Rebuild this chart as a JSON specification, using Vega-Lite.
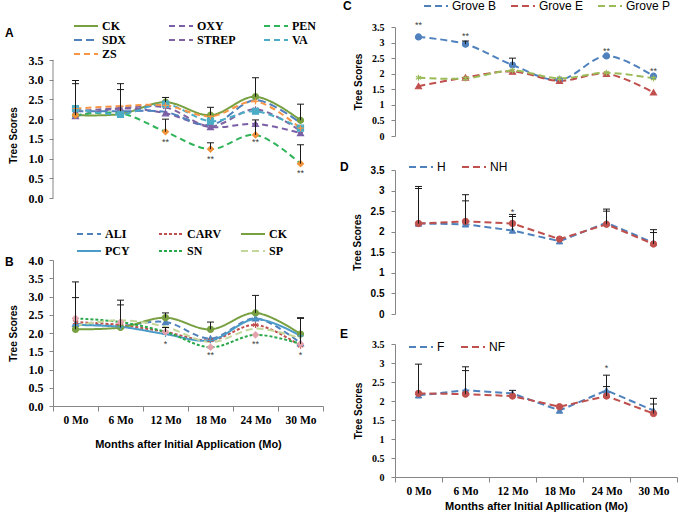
{
  "$schema": "https://vega.github.io/schema/vega-lite/v6.json",
  "padding": {"left": 5, "top": 0, "right": 0, "bottom": 0},
  "config": {
    "view": {"stroke": null},
    "axis": {"domainColor": "#868686", "tickColor": "#868686", "grid": false, "labelColor": "#000", "titleColor": "#000"},
    "legend": {"symbolStrokeWidth": 2, "labelColor": "#000", "titleColor": "#000"}
  },
  "datasets": {
    "a": [
      {"m": "0 Mo", "s": "CK", "v": 2.10}, {"m": "6 Mo", "s": "CK", "v": 2.13}, {"m": "12 Mo", "s": "CK", "v": 2.43}, {"m": "18 Mo", "s": "CK", "v": 2.10}, {"m": "24 Mo", "s": "CK", "v": 2.57}, {"m": "30 Mo", "s": "CK", "v": 1.97},
      {"m": "0 Mo", "s": "OXY", "v": 2.08}, {"m": "6 Mo", "s": "OXY", "v": 2.27}, {"m": "12 Mo", "s": "OXY", "v": 2.15}, {"m": "18 Mo", "s": "OXY", "v": 1.80}, {"m": "24 Mo", "s": "OXY", "v": 1.88}, {"m": "30 Mo", "s": "OXY", "v": 1.65},
      {"m": "0 Mo", "s": "PEN", "v": 2.10}, {"m": "6 Mo", "s": "PEN", "v": 2.15}, {"m": "12 Mo", "s": "PEN", "v": 1.68}, {"m": "18 Mo", "s": "PEN", "v": 1.24}, {"m": "24 Mo", "s": "PEN", "v": 1.60}, {"m": "30 Mo", "s": "PEN", "v": 0.87},
      {"m": "0 Mo", "s": "SDX", "v": 2.20}, {"m": "6 Mo", "s": "SDX", "v": 2.20}, {"m": "12 Mo", "s": "SDX", "v": 2.18}, {"m": "18 Mo", "s": "SDX", "v": 1.85}, {"m": "24 Mo", "s": "SDX", "v": 2.48}, {"m": "30 Mo", "s": "SDX", "v": 1.90},
      {"m": "0 Mo", "s": "STREP", "v": 2.20}, {"m": "6 Mo", "s": "STREP", "v": 2.28}, {"m": "12 Mo", "s": "STREP", "v": 2.30}, {"m": "18 Mo", "s": "STREP", "v": 1.82}, {"m": "24 Mo", "s": "STREP", "v": 2.25}, {"m": "30 Mo", "s": "STREP", "v": 1.70},
      {"m": "0 Mo", "s": "VA", "v": 2.27}, {"m": "6 Mo", "s": "VA", "v": 2.12}, {"m": "12 Mo", "s": "VA", "v": 2.38}, {"m": "18 Mo", "s": "VA", "v": 1.95}, {"m": "24 Mo", "s": "VA", "v": 2.20}, {"m": "30 Mo", "s": "VA", "v": 1.77},
      {"m": "0 Mo", "s": "ZS", "v": 2.27}, {"m": "6 Mo", "s": "ZS", "v": 2.33}, {"m": "12 Mo", "s": "ZS", "v": 2.35}, {"m": "18 Mo", "s": "ZS", "v": 2.07}, {"m": "24 Mo", "s": "ZS", "v": 2.45}, {"m": "30 Mo", "s": "ZS", "v": 1.77}
    ],
    "aAxis": [{"v": 0, "v0": 3.5}],
    "aErr": [
      {"m": "0 Mo", "v0": 2.27, "v": 2.98}, {"m": "0 Mo", "v0": 2.10, "v": 2.90},
      {"m": "6 Mo", "v0": 2.27, "v": 2.90}, {"m": "6 Mo", "v0": 2.20, "v": 2.75},
      {"m": "12 Mo", "v0": 2.43, "v": 2.55}, {"m": "12 Mo", "v0": 1.68, "v": 2.00},
      {"m": "18 Mo", "v0": 2.10, "v": 2.30}, {"m": "18 Mo", "v0": 1.24, "v": 1.40},
      {"m": "24 Mo", "v0": 2.57, "v": 3.05}, {"m": "24 Mo", "v0": 1.60, "v": 1.98},
      {"m": "30 Mo", "v0": 1.97, "v": 2.38}, {"m": "30 Mo", "v0": 0.87, "v": 1.35}
    ],
    "aSig": [
      {"m": "12 Mo", "v": 1.43, "t": "**"}, {"m": "18 Mo", "v": 1.0, "t": "**"}, {"m": "24 Mo", "v": 1.43, "t": "**"}, {"m": "30 Mo", "v": 0.63, "t": "**"}
    ],
    "b": [
      {"m": "0 Mo", "s": "ALI", "v": 2.25}, {"m": "6 Mo", "s": "ALI", "v": 2.20}, {"m": "12 Mo", "s": "ALI", "v": 2.30}, {"m": "18 Mo", "s": "ALI", "v": 1.85}, {"m": "24 Mo", "s": "ALI", "v": 2.40}, {"m": "30 Mo", "s": "ALI", "v": 1.72},
      {"m": "0 Mo", "s": "CARV", "v": 2.30}, {"m": "6 Mo", "s": "CARV", "v": 2.22}, {"m": "12 Mo", "s": "CARV", "v": 2.03}, {"m": "18 Mo", "s": "CARV", "v": 1.80}, {"m": "24 Mo", "s": "CARV", "v": 2.22}, {"m": "30 Mo", "s": "CARV", "v": 1.65},
      {"m": "0 Mo", "s": "CK", "v": 2.10}, {"m": "6 Mo", "s": "CK", "v": 2.15}, {"m": "12 Mo", "s": "CK", "v": 2.42}, {"m": "18 Mo", "s": "CK", "v": 2.10}, {"m": "24 Mo", "s": "CK", "v": 2.55}, {"m": "30 Mo", "s": "CK", "v": 1.97},
      {"m": "0 Mo", "s": "PCY", "v": 2.22}, {"m": "6 Mo", "s": "PCY", "v": 2.17}, {"m": "12 Mo", "s": "PCY", "v": 1.97}, {"m": "18 Mo", "s": "PCY", "v": 1.80}, {"m": "24 Mo", "s": "PCY", "v": 2.38}, {"m": "30 Mo", "s": "PCY", "v": 1.92},
      {"m": "0 Mo", "s": "SN", "v": 2.40}, {"m": "6 Mo", "s": "SN", "v": 2.30}, {"m": "12 Mo", "s": "SN", "v": 2.03}, {"m": "18 Mo", "s": "SN", "v": 1.61}, {"m": "24 Mo", "s": "SN", "v": 1.95}, {"m": "30 Mo", "s": "SN", "v": 1.70},
      {"m": "0 Mo", "s": "SP", "v": 2.20}, {"m": "6 Mo", "s": "SP", "v": 2.35}, {"m": "12 Mo", "s": "SP", "v": 2.17}, {"m": "18 Mo", "s": "SP", "v": 1.75}, {"m": "24 Mo", "s": "SP", "v": 2.12}, {"m": "30 Mo", "s": "SP", "v": 1.85}
    ],
    "bErr": [
      {"m": "0 Mo", "v0": 2.25, "v": 3.40}, {"m": "0 Mo", "v0": 2.10, "v": 2.97},
      {"m": "6 Mo", "v0": 2.20, "v": 2.90}, {"m": "6 Mo", "v0": 2.15, "v": 2.77},
      {"m": "12 Mo", "v0": 2.42, "v": 2.55}, {"m": "12 Mo", "v0": 2.03, "v": 2.15},
      {"m": "18 Mo", "v0": 2.10, "v": 2.30},
      {"m": "24 Mo", "v0": 2.55, "v": 3.03},
      {"m": "30 Mo", "v0": 1.97, "v": 2.42}, {"m": "30 Mo", "v0": 1.70, "v": 2.40}
    ],
    "bSig": [
      {"m": "12 Mo", "v": 1.69, "t": "*"}, {"m": "18 Mo", "v": 1.41, "t": "**"}, {"m": "24 Mo", "v": 1.69, "t": "**"}, {"m": "30 Mo", "v": 1.41, "t": "*"}
    ],
    "c": [
      {"m": "0 Mo", "s": "Grove B", "v": 3.18}, {"m": "6 Mo", "s": "Grove B", "v": 2.95}, {"m": "12 Mo", "s": "Grove B", "v": 2.28}, {"m": "18 Mo", "s": "Grove B", "v": 1.80}, {"m": "24 Mo", "s": "Grove B", "v": 2.57}, {"m": "30 Mo", "s": "Grove B", "v": 1.92},
      {"m": "0 Mo", "s": "Grove E", "v": 1.60}, {"m": "6 Mo", "s": "Grove E", "v": 1.88}, {"m": "12 Mo", "s": "Grove E", "v": 2.07}, {"m": "18 Mo", "s": "Grove E", "v": 1.77}, {"m": "24 Mo", "s": "Grove E", "v": 2.00}, {"m": "30 Mo", "s": "Grove E", "v": 1.40},
      {"m": "0 Mo", "s": "Grove P", "v": 1.87}, {"m": "6 Mo", "s": "Grove P", "v": 1.85}, {"m": "12 Mo", "s": "Grove P", "v": 2.10}, {"m": "18 Mo", "s": "Grove P", "v": 1.85}, {"m": "24 Mo", "s": "Grove P", "v": 2.03}, {"m": "30 Mo", "s": "Grove P", "v": 1.85}
    ],
    "cErr": [
      {"m": "6 Mo", "v0": 2.95, "v": 3.05}, {"m": "12 Mo", "v0": 2.28, "v": 2.50}
    ],
    "cSig": [
      {"m": "0 Mo", "v": 3.58, "t": "**"}, {"m": "6 Mo", "v": 3.22, "t": "**"}, {"m": "24 Mo", "v": 2.74, "t": "**"}, {"m": "30 Mo", "v": 2.10, "t": "**"}
    ],
    "d": [
      {"m": "0 Mo", "s": "H", "v": 2.20}, {"m": "6 Mo", "s": "H", "v": 2.18}, {"m": "12 Mo", "s": "H", "v": 2.03}, {"m": "18 Mo", "s": "H", "v": 1.77}, {"m": "24 Mo", "s": "H", "v": 2.22}, {"m": "30 Mo", "s": "H", "v": 1.73},
      {"m": "0 Mo", "s": "NH", "v": 2.20}, {"m": "6 Mo", "s": "NH", "v": 2.25}, {"m": "12 Mo", "s": "NH", "v": 2.20}, {"m": "18 Mo", "s": "NH", "v": 1.82}, {"m": "24 Mo", "s": "NH", "v": 2.18}, {"m": "30 Mo", "s": "NH", "v": 1.70}
    ],
    "dErr": [
      {"m": "0 Mo", "v0": 2.20, "v": 3.10}, {"m": "0 Mo", "v0": 2.20, "v": 3.05},
      {"m": "6 Mo", "v0": 2.25, "v": 2.90}, {"m": "6 Mo", "v0": 2.18, "v": 2.75},
      {"m": "12 Mo", "v0": 2.20, "v": 2.42}, {"m": "12 Mo", "v0": 2.03, "v": 2.37},
      {"m": "24 Mo", "v0": 2.22, "v": 2.55}, {"m": "24 Mo", "v0": 2.18, "v": 2.50},
      {"m": "30 Mo", "v0": 1.73, "v": 2.05}, {"m": "30 Mo", "v0": 1.70, "v": 1.98}
    ],
    "dSig": [
      {"m": "12 Mo", "v": 2.47, "t": "*"}
    ],
    "e": [
      {"m": "0 Mo", "s": "F", "v": 2.15}, {"m": "6 Mo", "s": "F", "v": 2.28}, {"m": "12 Mo", "s": "F", "v": 2.20}, {"m": "18 Mo", "s": "F", "v": 1.75}, {"m": "24 Mo", "s": "F", "v": 2.28}, {"m": "30 Mo", "s": "F", "v": 1.75},
      {"m": "0 Mo", "s": "NF", "v": 2.20}, {"m": "6 Mo", "s": "NF", "v": 2.18}, {"m": "12 Mo", "s": "NF", "v": 2.13}, {"m": "18 Mo", "s": "NF", "v": 1.85}, {"m": "24 Mo", "s": "NF", "v": 2.13}, {"m": "30 Mo", "s": "NF", "v": 1.67}
    ],
    "eErr": [
      {"m": "0 Mo", "v0": 2.20, "v": 2.97},
      {"m": "6 Mo", "v0": 2.28, "v": 2.90}, {"m": "6 Mo", "v0": 2.18, "v": 2.80},
      {"m": "12 Mo", "v0": 2.20, "v": 2.28},
      {"m": "24 Mo", "v0": 2.28, "v": 2.68}, {"m": "24 Mo", "v0": 2.13, "v": 2.38},
      {"m": "30 Mo", "v0": 1.75, "v": 2.07}, {"m": "30 Mo", "v0": 1.67, "v": 1.92}
    ],
    "eSig": [
      {"m": "24 Mo", "v": 2.86, "t": "*"}
    ]
  },
  "resolve": {"scale": {"color": "independent", "strokeDash": "independent", "fill": "independent", "stroke": "independent", "shape": "independent"}},
  "columns": 2,
  "align": "none",
  "spacing": 16,
  "concat": [
    {
      "spacing": 24,
      "resolve": {"scale": {"color": "independent", "strokeDash": "independent", "fill": "independent", "stroke": "independent", "shape": "independent"}},
      "vconcat": [
        {
          "width": 270, "height": 171,
          "encoding": {
            "x": {"field": "m", "type": "ordinal", "sort": ["0 Mo", "6 Mo", "12 Mo", "18 Mo", "24 Mo", "30 Mo"], "bandPosition": 0.5, "scale": {"type": "band", "paddingInner": 0, "paddingOuter": 0}, "axis": null},
            "y": {"field": "v", "type": "quantitative", "scale": {"domain": [0, 4.337], "nice": false, "zero": false},
              "axis": {"title": "Tree Scores", "domain": false, "titleY": 108, "values": [0, 0.5, 1, 1.5, 2, 2.5, 3, 3.5], "format": ".1f", "labelFont": "Liberation Serif", "labelFontWeight": "bold", "labelFontSize": 12, "titleFont": "Liberation Sans", "titleFontWeight": "bold", "titleFontSize": 10, "tickSize": 4, "labelPadding": 6, "titlePadding": 10}}
          },
          "layer": [
            {"data": {"name": "aAxis"}, "mark": {"type": "rule", "color": "#868686", "strokeWidth": 1},
              "encoding": {"x": {"datum": "0 Mo", "type": "ordinal", "bandPosition": 0}, "y2": {"field": "v0"}}},
            {"data": {"name": "a"}, "mark": {"type": "line", "interpolate": "catmull-rom", "strokeWidth": 2},
              "encoding": {
                "color": {"field": "s", "type": "nominal", "scale": {"domain": ["CK", "OXY", "PEN", "SDX", "STREP", "VA", "ZS"], "range": ["#78a040", "#7a5ea6", "#2fb45a", "#4f81bd", "#8064a2", "#4bacc6", "#f79646"]},
                  "legend": {"title": "A", "orient": "none", "direction": "horizontal", "legendX": -48, "legendY": -7, "columns": 3, "columnPadding": 24, "gridAlign": "all", "rowPadding": 2, "symbolType": "M-3,0H3", "symbolSize": 64, "symbolStrokeWidth": 2, "labelOffset": 10, "labelFont": "Liberation Serif", "labelFontWeight": "bold", "labelFontSize": 12, "titleOrient": "left", "titleFont": "Liberation Sans", "titleFontWeight": "bold", "titleFontSize": 12, "titlePadding": 66, "titleAnchor": "middle", "titleBaseline": "bottom"}},
                "strokeDash": {"field": "s", "type": "nominal", "scale": {"domain": ["CK", "OXY", "PEN", "SDX", "STREP", "VA", "ZS"], "range": [[1, 0], [6, 4], [6, 4], [8, 4], [6, 4], [6, 4], [6, 4]]},
                  "legend": {"title": "A", "orient": "none", "direction": "horizontal", "legendX": -48, "legendY": -7, "columns": 3, "columnPadding": 24, "gridAlign": "all", "rowPadding": 2, "symbolType": "M-3,0H3", "symbolSize": 64, "symbolStrokeWidth": 2, "labelOffset": 10, "labelFont": "Liberation Serif", "labelFontWeight": "bold", "labelFontSize": 12, "titleOrient": "left", "titleFont": "Liberation Sans", "titleFontWeight": "bold", "titleFontSize": 12, "titlePadding": 66, "titleAnchor": "middle", "titleBaseline": "bottom"}}
              }},
            {"data": {"name": "a"}, "transform": [{"filter": {"field": "s", "oneOf": ["CK", "OXY", "PEN", "STREP", "VA", "ZS"]}}],
              "mark": {"type": "point", "filled": true, "size": 36, "strokeWidth": 1.2, "opacity": 1},
              "encoding": {
                "fill": {"field": "s", "type": "nominal", "scale": {"domain": ["CK", "OXY", "PEN", "STREP", "VA", "ZS"], "range": ["#78a040", "#7a5ea6", "#f0923a", "#8064a2", "#4bacc6", "#f79646"]}, "legend": null},
                "stroke": {"field": "s", "type": "nominal", "scale": {"domain": ["CK", "OXY", "PEN", "STREP", "VA", "ZS"], "range": ["#78a040", "#7a5ea6", "#f0923a", "#8064a2", "#4bacc6", "#f79646"]}, "legend": null},
                "shape": {"field": "s", "type": "nominal", "scale": {"domain": ["CK", "OXY", "PEN", "STREP", "VA", "ZS"], "range": ["circle", "triangle-up", "diamond", "M0,-1L0,1M-0.87,-0.5L0.87,0.5M-0.87,0.5L0.87,-0.5", "square", "M-1,0L1,0M0,-1L0,1"]}, "legend": null}
              }},
            {"data": {"name": "aErr"}, "mark": {"type": "rule", "color": "#1a1a1a", "strokeWidth": 1}, "encoding": {"y2": {"field": "v0"}}},
            {"data": {"name": "aErr"}, "mark": {"type": "tick", "color": "#1a1a1a", "size": 7, "thickness": 1, "opacity": 1, "orient": "horizontal"}},
            {"data": {"name": "aSig"}, "mark": {"type": "text", "fontSize": 9, "color": "#404040", "baseline": "middle"}, "encoding": {"text": {"field": "t"}}}
          ]
        },
        {
          "width": 270, "height": 146,
          "encoding": {
            "x": {"field": "m", "type": "ordinal", "sort": ["0 Mo", "6 Mo", "12 Mo", "18 Mo", "24 Mo", "30 Mo"], "bandPosition": 0.5, "scale": {"type": "band", "paddingInner": 0, "paddingOuter": 0},
              "axis": {"title": "Months after Initial Application (Mo)", "tickBand": "extent", "labelAngle": 0, "labelFont": "Liberation Serif", "labelFontWeight": "bold", "labelFontSize": 11.5, "labelPadding": 3, "tickSize": 5, "titleFont": "Liberation Sans", "titleFontWeight": "bold", "titleFontSize": 11, "titlePadding": 13}},
            "y": {"field": "v", "type": "quantitative", "scale": {"domain": [0, 4], "nice": false, "zero": false},
              "axis": {"title": "Tree Scores", "values": [0, 0.5, 1, 1.5, 2, 2.5, 3, 3.5, 4], "format": ".1f", "labelFont": "Liberation Serif", "labelFontWeight": "bold", "labelFontSize": 12, "titleFont": "Liberation Sans", "titleFontWeight": "bold", "titleFontSize": 10, "tickSize": 4, "labelPadding": 6, "titlePadding": 10}}
          },
          "layer": [
            {"data": {"name": "b"}, "mark": {"type": "line", "interpolate": "catmull-rom", "strokeWidth": 2},
              "encoding": {
                "color": {"field": "s", "type": "nominal", "scale": {"domain": ["ALI", "CARV", "CK", "PCY", "SN", "SP"], "range": ["#4f81bd", "#c0504d", "#78a040", "#4a9bc7", "#2aa84a", "#c4d79b"]},
                  "legend": {"title": "B", "orient": "none", "direction": "horizontal", "legendX": -48, "legendY": -32, "columns": 3, "columnPadding": 15, "gridAlign": "all", "rowPadding": 5, "symbolType": "M-3,0H3", "symbolSize": 64, "symbolStrokeWidth": 2, "labelOffset": 10, "labelFont": "Liberation Serif", "labelFontWeight": "bold", "labelFontSize": 12, "titleOrient": "left", "titleFont": "Liberation Sans", "titleFontWeight": "bold", "titleFontSize": 12, "titlePadding": 69, "titleAnchor": "end", "titleBaseline": "top"}},
                "strokeDash": {"field": "s", "type": "nominal", "scale": {"domain": ["ALI", "CARV", "CK", "PCY", "SN", "SP"], "range": [[6, 4], [3, 2], [1, 0], [1, 0], [3, 2], [7, 4]]},
                  "legend": {"title": "B", "orient": "none", "direction": "horizontal", "legendX": -48, "legendY": -32, "columns": 3, "columnPadding": 15, "gridAlign": "all", "rowPadding": 5, "symbolType": "M-3,0H3", "symbolSize": 64, "symbolStrokeWidth": 2, "labelOffset": 10, "labelFont": "Liberation Serif", "labelFontWeight": "bold", "labelFontSize": 12, "titleOrient": "left", "titleFont": "Liberation Sans", "titleFontWeight": "bold", "titleFontSize": 12, "titlePadding": 69, "titleAnchor": "end", "titleBaseline": "top"}}
              }},
            {"data": {"name": "b"}, "transform": [{"filter": {"field": "s", "oneOf": ["ALI", "CARV", "CK", "PCY", "SN"]}}],
              "mark": {"type": "point", "filled": true, "size": 36, "strokeWidth": 1.2, "opacity": 1},
              "encoding": {
                "fill": {"field": "s", "type": "nominal", "scale": {"domain": ["ALI", "CARV", "CK", "PCY", "SN"], "range": ["#4f81bd", "#c0504d", "#78a040", "#4a9bc7", "#e3a3ac"]}, "legend": null},
                "stroke": {"field": "s", "type": "nominal", "scale": {"domain": ["ALI", "CARV", "CK", "PCY", "SN"], "range": ["#4f81bd", "#c0504d", "#78a040", "#4a9bc7", "#e3a3ac"]}, "legend": null},
                "shape": {"field": "s", "type": "nominal", "scale": {"domain": ["ALI", "CARV", "CK", "PCY", "SN"], "range": ["triangle-up", "M0,-1L0,1M-0.87,-0.5L0.87,0.5M-0.87,0.5L0.87,-0.5", "circle", "M-1,0L1,0M0,-1L0,1", "diamond"]}, "legend": null}
              }},
            {"data": {"name": "bErr"}, "mark": {"type": "rule", "color": "#1a1a1a", "strokeWidth": 1}, "encoding": {"y2": {"field": "v0"}}},
            {"data": {"name": "bErr"}, "mark": {"type": "tick", "color": "#1a1a1a", "size": 7, "thickness": 1, "opacity": 1, "orient": "horizontal"}},
            {"data": {"name": "bSig"}, "mark": {"type": "text", "fontSize": 9, "color": "#404040", "baseline": "middle"}, "encoding": {"text": {"field": "t"}}}
          ]
        }
      ]
    },
    {
      "spacing": 20,
      "resolve": {"scale": {"color": "independent", "strokeDash": "independent", "fill": "independent", "stroke": "independent", "shape": "independent"}},
      "vconcat": [
        {
          "width": 282, "height": 109,
          "encoding": {
            "x": {"field": "m", "type": "ordinal", "sort": ["0 Mo", "6 Mo", "12 Mo", "18 Mo", "24 Mo", "30 Mo"], "bandPosition": 0.5, "scale": {"type": "band", "paddingInner": 0, "paddingOuter": 0}, "axis": null},
            "y": {"field": "v", "type": "quantitative", "scale": {"domain": [0, 3.5], "nice": false, "zero": false},
              "axis": {"title": "Tree Scores", "values": [0, 0.5, 1, 1.5, 2, 2.5, 3, 3.5], "format": "~g", "labelFont": "Liberation Serif", "labelFontWeight": "bold", "labelFontSize": 10, "titleFont": "Liberation Sans", "titleFontWeight": "bold", "titleFontSize": 10, "tickSize": 4, "labelPadding": 7, "titlePadding": 8}}
          },
          "layer": [
            {"data": {"name": "c"}, "mark": {"type": "line", "interpolate": "catmull-rom", "strokeWidth": 2},
              "encoding": {
                "color": {"field": "s", "type": "nominal", "scale": {"domain": ["Grove B", "Grove E", "Grove P"], "range": ["#4f81bd", "#c0504d", "#9bbb59"]},
                  "legend": {"title": "C", "orient": "none", "direction": "horizontal", "legendX": -52, "legendY": -27, "columns": 3, "columnPadding": 10, "gridAlign": "all", "rowPadding": 2, "symbolType": "M-3,0H3", "symbolSize": 64, "symbolStrokeWidth": 2, "labelOffset": 10, "labelFont": "Liberation Sans", "labelFontSize": 12, "titleOrient": "left", "titleFont": "Liberation Sans", "titleFontWeight": "bold", "titleFontSize": 12, "titlePadding": 78}},
                "strokeDash": {"field": "s", "type": "nominal", "scale": {"domain": ["Grove B", "Grove E", "Grove P"], "range": [[7, 4], [7, 4], [7, 4]]},
                  "legend": {"title": "C", "orient": "none", "direction": "horizontal", "legendX": -52, "legendY": -27, "columns": 3, "columnPadding": 10, "gridAlign": "all", "rowPadding": 2, "symbolType": "M-3,0H3", "symbolSize": 64, "symbolStrokeWidth": 2, "labelOffset": 10, "labelFont": "Liberation Sans", "labelFontSize": 12, "titleOrient": "left", "titleFont": "Liberation Sans", "titleFontWeight": "bold", "titleFontSize": 12, "titlePadding": 78}}
              }},
            {"data": {"name": "c"},
              "mark": {"type": "point", "filled": true, "size": 36, "strokeWidth": 1.2, "opacity": 1},
              "encoding": {
                "fill": {"field": "s", "type": "nominal", "scale": {"domain": ["Grove B", "Grove E", "Grove P", "-"], "range": ["#4f81bd", "#c0504d", "#9bbb59", "#000000"]}, "legend": null},
                "stroke": {"field": "s", "type": "nominal", "scale": {"domain": ["Grove B", "Grove E", "Grove P", "-"], "range": ["#4f81bd", "#c0504d", "#9bbb59", "#000000"]}, "legend": null},
                "shape": {"field": "s", "type": "nominal", "scale": {"domain": ["Grove B", "Grove E", "Grove P", "-"], "range": ["circle", "triangle-up", "M0,-1L0,1M-0.87,-0.5L0.87,0.5M-0.87,0.5L0.87,-0.5", "circle"]}, "legend": null}
              }},
            {"data": {"name": "cErr"}, "mark": {"type": "rule", "color": "#1a1a1a", "strokeWidth": 1}, "encoding": {"y2": {"field": "v0"}}},
            {"data": {"name": "cErr"}, "mark": {"type": "tick", "color": "#1a1a1a", "size": 7, "thickness": 1, "opacity": 1, "orient": "horizontal"}},
            {"data": {"name": "cSig"}, "mark": {"type": "text", "fontSize": 9, "color": "#404040", "baseline": "middle"}, "encoding": {"text": {"field": "t"}}}
          ]
        },
        {
          "width": 282, "height": 144,
          "encoding": {
            "x": {"field": "m", "type": "ordinal", "sort": ["0 Mo", "6 Mo", "12 Mo", "18 Mo", "24 Mo", "30 Mo"], "bandPosition": 0.5, "scale": {"type": "band", "paddingInner": 0, "paddingOuter": 0}, "axis": null},
            "y": {"field": "v", "type": "quantitative", "scale": {"domain": [0, 3.5], "nice": false, "zero": false},
              "axis": {"title": "Tree Scores", "values": [0, 0.5, 1, 1.5, 2, 2.5, 3, 3.5], "format": "~g", "labelFont": "Liberation Sans", "labelFontWeight": "bold", "labelFontSize": 10, "titleFont": "Liberation Sans", "titleFontWeight": "bold", "titleFontSize": 10, "tickSize": 4, "labelPadding": 7, "titlePadding": 8}}
          },
          "layer": [
            {"data": {"name": "d"}, "mark": {"type": "line", "strokeWidth": 2},
              "encoding": {
                "color": {"field": "s", "type": "nominal", "scale": {"domain": ["H", "NH"], "range": ["#4f81bd", "#c0504d"]},
                  "legend": {"title": "D", "orient": "none", "direction": "horizontal", "legendX": -55, "legendY": -9, "columns": 2, "columnPadding": 12, "gridAlign": "each", "rowPadding": 2, "symbolType": "M-3,0H3", "symbolSize": 64, "symbolStrokeWidth": 2, "labelOffset": 10, "labelFont": "Liberation Sans", "labelFontSize": 12, "titleOrient": "left", "titleFont": "Liberation Sans", "titleFontWeight": "bold", "titleFontSize": 12, "titlePadding": 66}},
                "strokeDash": {"field": "s", "type": "nominal", "scale": {"domain": ["H", "NH"], "range": [[7, 4], [7, 4]]},
                  "legend": {"title": "D", "orient": "none", "direction": "horizontal", "legendX": -55, "legendY": -9, "columns": 2, "columnPadding": 12, "gridAlign": "each", "rowPadding": 2, "symbolType": "M-3,0H3", "symbolSize": 64, "symbolStrokeWidth": 2, "labelOffset": 10, "labelFont": "Liberation Sans", "labelFontSize": 12, "titleOrient": "left", "titleFont": "Liberation Sans", "titleFontWeight": "bold", "titleFontSize": 12, "titlePadding": 66}}
              }},
            {"data": {"name": "d"},
              "mark": {"type": "point", "filled": true, "size": 40, "strokeWidth": 1, "opacity": 1},
              "encoding": {
                "fill": {"field": "s", "type": "nominal", "scale": {"domain": ["H", "NH", "-"], "range": ["#4f81bd", "#c0504d", "#000000"]}, "legend": null},
                "stroke": {"field": "s", "type": "nominal", "scale": {"domain": ["H", "NH", "-"], "range": ["#4f81bd", "#c0504d", "#000000"]}, "legend": null},
                "shape": {"field": "s", "type": "nominal", "scale": {"domain": ["H", "NH", "-"], "range": ["triangle-up", "circle", "square"]}, "legend": null}
              }},
            {"data": {"name": "dErr"}, "mark": {"type": "rule", "color": "#1a1a1a", "strokeWidth": 1}, "encoding": {"y2": {"field": "v0"}}},
            {"data": {"name": "dErr"}, "mark": {"type": "tick", "color": "#1a1a1a", "size": 7, "thickness": 1, "opacity": 1, "orient": "horizontal"}},
            {"data": {"name": "dSig"}, "mark": {"type": "text", "fontSize": 9, "color": "#404040", "baseline": "middle"}, "encoding": {"text": {"field": "t"}}}
          ]
        },
        {
          "width": 282, "height": 133,
          "encoding": {
            "x": {"field": "m", "type": "ordinal", "sort": ["0 Mo", "6 Mo", "12 Mo", "18 Mo", "24 Mo", "30 Mo"], "bandPosition": 0.5, "scale": {"type": "band", "paddingInner": 0, "paddingOuter": 0},
              "axis": {"title": "Months after Initial Apllication (Mo)", "tickBand": "extent", "labelAngle": 0, "labelFont": "Liberation Serif", "labelFontWeight": "bold", "labelFontSize": 11.5, "labelPadding": 3, "tickSize": 5, "titleFont": "Liberation Sans", "titleFontWeight": "bold", "titleFontSize": 11, "titlePadding": 4}},
            "y": {"field": "v", "type": "quantitative", "scale": {"domain": [0, 3.5], "nice": false, "zero": false},
              "axis": {"title": "Tree Scores", "values": [0, 0.5, 1, 1.5, 2, 2.5, 3, 3.5], "format": "~g", "labelFont": "Liberation Serif", "labelFontWeight": "bold", "labelFontSize": 10, "titleFont": "Liberation Sans", "titleFontWeight": "bold", "titleFontSize": 10, "tickSize": 4, "labelPadding": 7, "titlePadding": 8}}
          },
          "layer": [
            {"data": {"name": "e"}, "mark": {"type": "line", "strokeWidth": 2},
              "encoding": {
                "color": {"field": "s", "type": "nominal", "scale": {"domain": ["F", "NF"], "range": ["#4f81bd", "#c0504d"]},
                  "legend": {"title": "E", "orient": "none", "direction": "horizontal", "legendX": -55, "legendY": -3, "columns": 2, "columnPadding": 12, "gridAlign": "each", "rowPadding": 2, "symbolType": "M-3,0H3", "symbolSize": 64, "symbolStrokeWidth": 2, "labelOffset": 10, "labelFont": "Liberation Sans", "labelFontSize": 12, "titleOrient": "left", "titleFont": "Liberation Sans", "titleFontWeight": "bold", "titleFontSize": 12, "titlePadding": 66, "titleAnchor": "start", "titleBaseline": "bottom"}},
                "strokeDash": {"field": "s", "type": "nominal", "scale": {"domain": ["F", "NF"], "range": [[7, 4], [7, 4]]},
                  "legend": {"title": "E", "orient": "none", "direction": "horizontal", "legendX": -55, "legendY": -3, "columns": 2, "columnPadding": 12, "gridAlign": "each", "rowPadding": 2, "symbolType": "M-3,0H3", "symbolSize": 64, "symbolStrokeWidth": 2, "labelOffset": 10, "labelFont": "Liberation Sans", "labelFontSize": 12, "titleOrient": "left", "titleFont": "Liberation Sans", "titleFontWeight": "bold", "titleFontSize": 12, "titlePadding": 66, "titleAnchor": "start", "titleBaseline": "bottom"}}
              }},
            {"data": {"name": "e"},
              "mark": {"type": "point", "filled": true, "size": 40, "strokeWidth": 1, "opacity": 1},
              "encoding": {
                "fill": {"field": "s", "type": "nominal", "scale": {"domain": ["F", "NF", "-"], "range": ["#4f81bd", "#c0504d", "#000000"]}, "legend": null},
                "stroke": {"field": "s", "type": "nominal", "scale": {"domain": ["F", "NF", "-"], "range": ["#4f81bd", "#c0504d", "#000000"]}, "legend": null},
                "shape": {"field": "s", "type": "nominal", "scale": {"domain": ["F", "NF", "-"], "range": ["triangle-up", "circle", "square"]}, "legend": null}
              }},
            {"data": {"name": "eErr"}, "mark": {"type": "rule", "color": "#1a1a1a", "strokeWidth": 1}, "encoding": {"y2": {"field": "v0"}}},
            {"data": {"name": "eErr"}, "mark": {"type": "tick", "color": "#1a1a1a", "size": 7, "thickness": 1, "opacity": 1, "orient": "horizontal"}},
            {"data": {"name": "eSig"}, "mark": {"type": "text", "fontSize": 9, "color": "#404040", "baseline": "middle"}, "encoding": {"text": {"field": "t"}}}
          ]
        }
      ]
    }
  ]
}
